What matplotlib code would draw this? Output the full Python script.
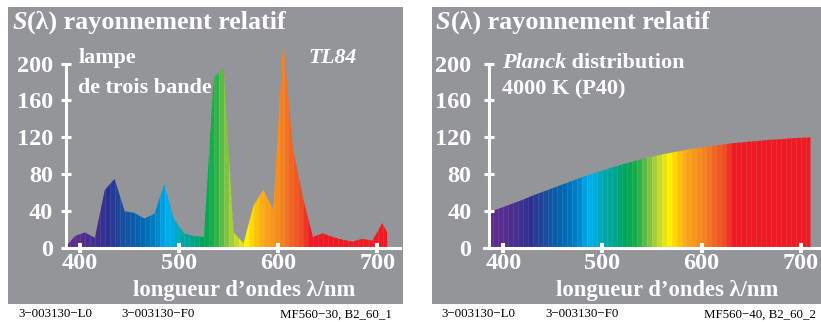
import numpy as np
import matplotlib
matplotlib.use("Agg")
import matplotlib.pyplot as plt
from matplotlib.patches import Rectangle, Polygon
from matplotlib.colors import to_rgb

# ---- data -------------------------------------------------------------
tl84_nm = [386, 395, 405, 415, 425, 435, 445, 455, 465, 475, 485, 495,
           505, 515, 525, 535, 545, 555, 565, 575, 585, 595, 605, 615,
           625, 635, 645, 655, 665, 675, 685, 695, 705, 710]
tl84_val = [2, 13, 17, 11, 63, 75, 40, 38, 32, 37, 69, 31,
            16, 13, 12, 185, 195, 17, 5, 46, 63, 42, 224, 107,
            55, 12, 16, 12, 9, 7, 10, 8, 27, 17]

planck_nm = [386, 390, 400, 410, 420, 430, 440, 450, 460, 470, 480, 490,
             500, 510, 520, 530, 540, 550, 560, 570, 580, 590, 600, 610,
             620, 630, 640, 650, 660, 670, 680, 690, 700, 710]
planck_val = [39, 40.5, 44.5, 48.5, 52.5, 57, 61, 65, 69, 73, 77, 80.5,
              84, 87.5, 90.5, 93.5, 96.5, 99, 101.5, 103.5, 105.5, 107.5,
              109, 110.5, 112, 113.5, 114.5, 115.5, 116.5, 117.5, 118,
              119, 119.5, 120]

x_ticks = [400, 500, 600, 700]
y_ticks = [0, 40, 80, 120, 160, 200]

title_main = "(λ) rayonnement relatif"
x_label = "longueur d’ondes λ/nm"
footer_left = ["3−003130−L0", "3−003130−F0", "MF560−30, B2_60_1"]
footer_right = ["3−003130−L0", "3−003130−F0", "MF560−40, B2_60_2"]

# ---- style ------------------------------------------------------------
W, H, DPI = 821, 322, 100
GRAY = "#939598"
plt.rcParams["font.family"] = ["Liberation Serif", "DejaVu Serif"]
plt.rcParams["font.weight"] = "bold"

spectrum_anchors = [
    (385, "#5E2C8C"), (400, "#5A2D8F"), (415, "#41308F"), (428, "#2E3192"),
    (440, "#1E4A9C"), (452, "#0D5CA9"), (465, "#006DB6"), (476, "#0084C8"),
    (486, "#00AEEF"), (492, "#00ACE0"), (500, "#00A8B0"), (512, "#00A591"),
    (525, "#00A651"), (535, "#1DAF4B"), (545, "#6DBE45"), (553, "#A8CF38"),
    (561, "#DDE11E"), (567, "#FFF200"), (575, "#FFCB05"), (585, "#FAA61A"),
    (595, "#F7941D"), (605, "#F37E21"), (615, "#F15F22"), (624, "#EF4A24"),
    (632, "#ED1C24"), (725, "#ED1C24")]

anc_nm = np.array([a[0] for a in spectrum_anchors], float)
anc_rgb = np.array([to_rgb(a[1]) for a in spectrum_anchors])


def spectrum_rgb(nm):
    return np.array([np.interp(nm, anc_nm, anc_rgb[:, k]) for k in range(3)])


def stripe_image(lo=380, hi=725):
    cols = []
    for c in np.arange(lo, hi) + 0.5:
        idx = np.floor((c - 385) / 5.0)
        rgb = spectrum_rgb(385 + 5 * idx + 2.5)
        if (c - 385) % 5 < 1:
            rgb = rgb * 0.92 + 0.08
        cols.append(rgb)
    return np.array(cols)[None, :, :], (lo, hi)


fig = plt.figure(figsize=(W / DPI, H / DPI), dpi=DPI)
fig.patch.set_facecolor("white")


def fx(x):
    return x / W


def fy(y):
    return 1 - y / H


# grey panels
for x0, x1 in [(8.3, 403.3), (432.3, 821.5)]:
    fig.patches.append(Rectangle((fx(x0), fy(304)), fx(x1 - x0), (304 - 7) / H,
                                 transform=fig.transFigure, facecolor=GRAY,
                                 edgecolor="none", zorder=-5))

PX_NM = 0.991
PX_UNIT = 0.922
Y0 = 248.0
YMAX = 250


def make_axes(px_400, xlo, xhi, nm, val, ypad):
    x0 = px_400 + (xlo - 400) * PX_NM
    x1 = px_400 + (xhi - 400) * PX_NM
    h = YMAX * PX_UNIT
    ax = fig.add_axes([fx(x0), (H - Y0) / H, (x1 - x0) / W, h / H])
    ax.set_zorder(2)
    ax.set_xlim(xlo, xhi)
    ax.set_ylim(0, YMAX)
    ax.patch.set_visible(False)

    img, (lo, hi) = stripe_image()
    im = ax.imshow(img, extent=(lo, hi, 0, YMAX), aspect="auto",
                   interpolation="nearest", origin="lower", zorder=1)
    verts = [(nm[0], 0)] + list(zip(nm, val)) + [(nm[-1], 0)]
    poly = Polygon(verts, closed=True, facecolor="none", edgecolor="none",
                   transform=ax.transData)
    ax.add_patch(poly)
    im.set_clip_path(poly)

    for s in ("top", "right"):
        ax.spines[s].set_visible(False)
    ax.spines["left"].set_position(("data", 386))
    ax.spines["left"].set_bounds(0, 200)
    for s in ("left", "bottom"):
        ax.spines[s].set_color("white")
        ax.spines[s].set_linewidth(2.2)
    ax.set_xticks(x_ticks)
    ax.set_yticks(y_ticks)
    ax.tick_params(axis="x", direction="inout", length=6.5, width=2.9,
                   color="white", labelcolor="white", labelsize=17.5, pad=0.5)
    ax.tick_params(axis="y", direction="inout", length=6.5, width=2.2,
                   color="white", labelcolor="white", labelsize=17.5, pad=ypad)
    for lab in ax.get_xticklabels() + ax.get_yticklabels():
        lab.set_fontweight("bold")
    return ax


ax1 = make_axes(80.0, 382.5, 722.5, tl84_nm, tl84_val, 6.0)
ax2 = make_axes(503.3, 381.0, 720.5, planck_nm, planck_val, 9.6)

renderer = fig.canvas.get_renderer()


def text_runs(x, y, runs, size, color="white"):
    for s, style in runs:
        t = fig.text(fx(x), fy(y), s, fontsize=size, color=color,
                     fontweight="bold", fontstyle=style, va="baseline",
                     ha="left", zorder=3)
        bb = t.get_window_extent(renderer)
        x = bb.x1


# titles
text_runs(12.7, 29, [("S", "italic"), (title_main, "normal")], 18.8)
text_runs(436.0, 29, [("S", "italic"), (title_main, "normal")], 18.8)

# panel annotations
text_runs(78.3, 63, [("lampe", "normal")], 15.9)
text_runs(78.3, 93, [("de trois bande", "normal")], 15.9)
text_runs(308, 63, [("TL84", "italic")], 15.7)
text_runs(501.7, 68, [("Planck", "italic"), (" distribution", "normal")], 16)
text_runs(501.7, 94, [("4000 K (P40)", "normal")], 16)

# axis labels
for cx in (244.0, 667.5):
    fig.text(fx(cx), fy(296), x_label, fontsize=16.3, color="white",
             fontweight="bold", ha="center", va="baseline", zorder=3)

# footers
for (xa, xb, xc), labels in [((18.3, 121.7, 391.7), footer_left),
                             ((441.7, 545.0, 816.0), footer_right)]:
    for xpos, lab, ha in [(xa, labels[0], "left"), (xb, labels[1], "left"),
                          (xc, labels[2], "right")]:
        fig.text(fx(xpos), fy(317.3), lab, fontsize=9.3, fontweight="normal",
                 color="black", ha=ha, va="baseline")

fig.savefig("out.png", dpi=DPI, facecolor="white")
